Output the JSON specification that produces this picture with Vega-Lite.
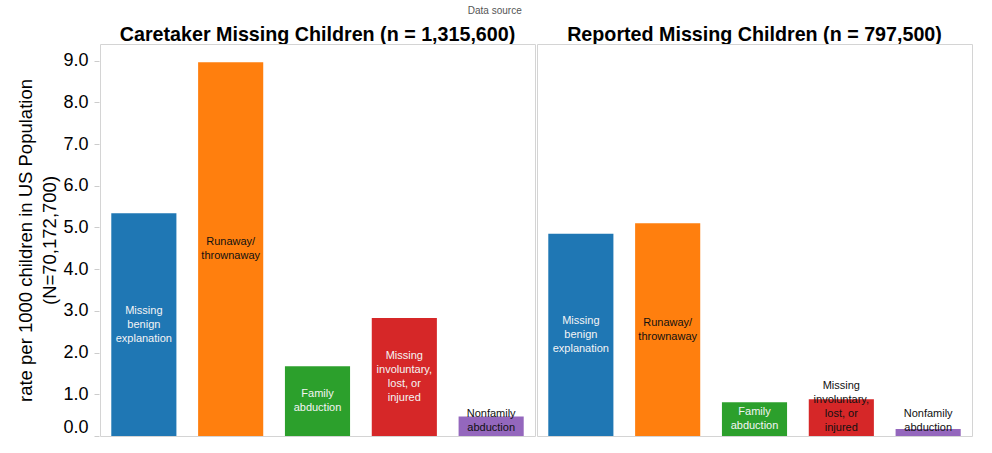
{
  "$schema": "https://vega.github.io/schema/vega-lite/v6.json",
  "background": "white",
  "padding": {"left": 16, "top": 6, "right": 5, "bottom": 5},
  "title": {
    "text": "Data source",
    "fontSize": 10,
    "fontWeight": "normal",
    "color": "#555555",
    "font": "Liberation Sans",
    "anchor": "middle",
    "offset": 9
  },
  "data": {
    "values": [
      {"panel": "Caretaker Missing Children (n = 1,315,600)", "category": "Missing benign explanation", "label": "Missing\nbenign\nexplanation", "rate": 5.34},
      {"panel": "Caretaker Missing Children (n = 1,315,600)", "category": "Runaway/thrownaway", "label": "Runaway/\nthrownaway", "rate": 8.96},
      {"panel": "Caretaker Missing Children (n = 1,315,600)", "category": "Family abduction", "label": "Family\nabduction", "rate": 1.67},
      {"panel": "Caretaker Missing Children (n = 1,315,600)", "category": "Missing involuntary, lost, or injured", "label": "Missing\ninvoluntary,\nlost, or\ninjured", "rate": 2.83},
      {"panel": "Caretaker Missing Children (n = 1,315,600)", "category": "Nonfamily abduction", "label": "Nonfamily\nabduction", "rate": 0.47},
      {"panel": "Reported Missing Children (n = 797,500)", "category": "Missing benign explanation", "label": "Missing\nbenign\nexplanation", "rate": 4.85},
      {"panel": "Reported Missing Children (n = 797,500)", "category": "Runaway/thrownaway", "label": "Runaway/\nthrownaway", "rate": 5.1},
      {"panel": "Reported Missing Children (n = 797,500)", "category": "Family abduction", "label": "Family\nabduction", "rate": 0.81},
      {"panel": "Reported Missing Children (n = 797,500)", "category": "Missing involuntary, lost, or injured", "label": "Missing\ninvoluntary,\nlost, or\ninjured", "rate": 0.88},
      {"panel": "Reported Missing Children (n = 797,500)", "category": "Nonfamily abduction", "label": "Nonfamily\nabduction", "rate": 0.17}
    ]
  },
  "transform": [
    {"calculate": "length(split(datum.label, '\\n'))", "as": "nlines"},
    {"calculate": "max(datum.rate / 2, datum.nlines * 0.175) + (datum.nlines - 1) * 0.168", "as": "labelY"},
    {"calculate": "datum.category != 'Runaway/thrownaway' && datum.rate > datum.nlines * 0.4", "as": "inside"}
  ],
  "facet": {
    "column": {
      "field": "panel",
      "type": "nominal",
      "sort": ["Caretaker Missing Children (n = 1,315,600)", "Reported Missing Children (n = 797,500)"],
      "title": null,
      "header": {
        "labelFont": "Liberation Sans",
        "labelFontSize": 19.7,
        "labelFontWeight": "bold",
        "labelColor": "black",
        "labelPadding": -2
      }
    }
  },
  "spacing": 0,
  "spec": {
    "width": 435,
    "height": 392,
    "encoding": {
      "x": {
        "field": "category",
        "type": "nominal",
        "sort": ["Missing benign explanation", "Runaway/thrownaway", "Family abduction", "Missing involuntary, lost, or injured", "Nonfamily abduction"],
        "scale": {"paddingInner": 0.25, "paddingOuter": 0.13},
        "axis": null
      }
    },
    "layer": [
      {
        "mark": {"type": "bar"},
        "encoding": {
          "y": {
            "field": "rate",
            "type": "quantitative",
            "scale": {"domain": [0, 9.4], "nice": false},
            "axis": {
              "values": [0, 1, 2, 3, 4, 5, 6, 7, 8, 9],
              "format": ".1f",
              "title": ["rate per 1000 children in US Population", "(N=70,172,700)"],
              "titleFont": "Liberation Sans",
              "titleFontSize": 18.5,
              "titleFontWeight": "normal",
              "titleColor": "black",
              "titlePadding": 3,
              "titleLineHeight": 24,
              "labelFont": "Liberation Sans",
              "labelFontSize": 18,
              "labelColor": "black",
              "labelPadding": 6,
              "labelFlush": true,
              "domain": false,
              "grid": false,
              "ticks": true,
              "tickSize": 5,
              "tickColor": "#cccccc"
            }
          },
          "color": {
            "field": "category",
            "type": "nominal",
            "scale": {
              "domain": ["Missing benign explanation", "Runaway/thrownaway", "Family abduction", "Missing involuntary, lost, or injured", "Nonfamily abduction"],
              "range": ["#1f77b4", "#ff7f0e", "#2ca02c", "#d62728", "#9467bd"]
            },
            "legend": null
          }
        }
      },
      {
        "mark": {
          "type": "text",
          "font": "Liberation Sans",
          "fontSize": 11,
          "lineBreak": "\n",
          "lineHeight": 14,
          "baseline": "middle",
          "align": "center"
        },
        "encoding": {
          "y": {"field": "labelY", "type": "quantitative"},
          "text": {"field": "label"},
          "color": {
            "condition": {"test": "datum.inside", "value": "#f4f4f4"},
            "value": "#111111"
          }
        }
      }
    ]
  },
  "config": {
    "view": {"stroke": "#d4d4d4"},
    "font": "Liberation Sans"
  }
}
